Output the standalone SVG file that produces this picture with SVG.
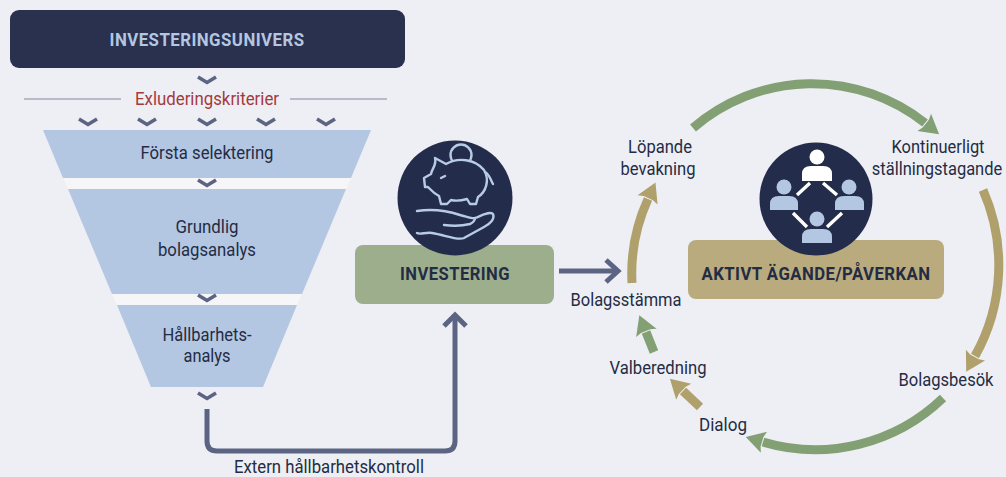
<svg xmlns="http://www.w3.org/2000/svg" width="1006" height="477" viewBox="0 0 1006 477">
<style>
text{font-family:Roboto,"Liberation Sans",sans-serif;fill:#232c44;text-anchor:middle;font-size:18.5px}
.b{font-weight:700;font-size:18px;letter-spacing:.5px}
.ch{fill:none;stroke:#5c6484;stroke-width:3.6}
.f{fill:#b3c6e2}
.g{fill:none;stroke:#83a074;stroke-width:9}
.t{fill:none;stroke:#b0a06c;stroke-width:9}
.ic{fill:none;stroke:#b8cbe6;stroke-width:2.4;stroke-linejoin:round;stroke-linecap:round}
.c{fill:#232c4a}
.pb{fill:#b3c6e2}
.pw{fill:#fff}
.ln{stroke:#fff;stroke-width:3.4;fill:none}
.flow{fill:none;stroke:#5c6484;stroke-width:5}
</style>
<defs>
<path id="chev" class="ch" d="M-9,-3 L0,2.5 L9,-3"/>
<marker id="ag" markerUnits="userSpaceOnUse" markerWidth="30" markerHeight="30" refX="2" refY="13" orient="auto" viewBox="0 0 30 30"><path fill="#83a074" d="M3,8 L1,2 L20,13 L1,24 L3,18Z"/></marker>
<marker id="at" markerUnits="userSpaceOnUse" markerWidth="30" markerHeight="30" refX="2" refY="13" orient="auto" viewBox="0 0 30 30"><path fill="#b0a06c" d="M3,8 L1,2 L20,13 L1,24 L3,18Z"/></marker>
</defs>
<rect width="1006" height="477" fill="#eeeff4"/>
<g id="investeringsunivers"><rect x="10" y="10" width="395" height="58" rx="9" fill="#29314e"/><text class="b" x="207" y="46" style="fill:#b3c6e2" textLength="195" lengthAdjust="spacingAndGlyphs">INVESTERINGSUNIVERS</text></g>
<g id="exkludering">
<line x1="24" y1="99" x2="121" y2="99" stroke="#a8a9bb" stroke-width="1.5"/><line x1="290" y1="99" x2="387" y2="99" stroke="#a8a9bb" stroke-width="1.5"/>
<text x="207" y="105" style="fill:#a33a40" textLength="144" lengthAdjust="spacingAndGlyphs">Exluderingskriterier</text>
</g>
<path id="gaps" fill="#f6f6f9" d="M63,178 H351 L346,189 H68Z M112,294 H302 L297,305 H117Z"/>
<g id="selektering"><path class="f" d="M43,130 H371 L351,178 H63Z"/><text x="207" y="159" textLength="133" lengthAdjust="spacingAndGlyphs">Första selektering</text></g>
<g id="bolagsanalys"><path class="f" d="M68,189 H346 L302,294 H112Z"/><text x="207" y="233" textLength="63" lengthAdjust="spacingAndGlyphs">Grundlig</text><text x="207" y="256" textLength="98" lengthAdjust="spacingAndGlyphs">bolagsanalys</text></g>
<g id="hallbarhetsanalys"><path class="f" d="M117,305 H297 L263,387 H151Z"/><text x="207" y="341" textLength="89" lengthAdjust="spacingAndGlyphs">Hållbarhets-</text><text x="207" y="362" textLength="47" lengthAdjust="spacingAndGlyphs">analys</text></g>
<g id="investering">
<rect x="355" y="245" width="199" height="59" rx="8" fill="#9dae8c"/>
<circle class="c" cx="455" cy="198" r="57.5"/>
<circle class="ic" cx="461" cy="155" r="10.5"/>
<path d="M435,158 L446,164 C458,157 475,159 484,170 C490,180 486,192 478,197 L476,204 L470,204 L467,199 C460,201 455,201 451,200 L447,204 L441,204 L439,196 C433,193 431,190 428,187 L425,187 L424,178 L431,174 C432,168 437,165 435,158Z" fill="#232c4a" stroke="#b8cbe6" stroke-width="2.4" stroke-linejoin="round"/>
<path class="ic" d="M485,172 C490,175 490,179 493,184"/>
<path class="ic" d="M441,178 L445,176"/>
<path class="ic" d="M417,211 C430,209 445,210 460,215 C468,217 473,219 475,218 C483,215 490,211 493,214 C495,219 490,224 484,227 L464,238 C458,241 445,235 432,233 C426,232 420,235 417,233"/>
<path class="ic" d="M444,225 C452,226 462,226 470,224 C473,223 475,220 475,218"/>
<text class="b" x="455" y="280" textLength="110" lengthAdjust="spacingAndGlyphs">INVESTERING</text>
</g>
<g id="aktivt">
<rect x="688" y="240" width="256" height="59" rx="8" fill="#b9ab7d"/>
<circle class="c" cx="816" cy="199" r="56.5"/>
<circle class="pw" cx="817" cy="157" r="7.5"/><path class="pw" d="M802,181 V174 Q802,166 811,166 H823 Q832,166 832,174 V181Z"/>
<circle class="pb" cx="784" cy="187" r="7.5"/><path class="pb" d="M770,210 V204 Q770,196 779,196 H789 Q798,196 798,204 V210Z"/>
<circle class="pb" cx="849" cy="187" r="7.5"/><path class="pb" d="M835,210 V204 Q835,196 844,196 H855 Q864,196 864,204 V210Z"/>
<circle class="pb" cx="817" cy="219" r="7.5"/><path class="pb" d="M802,243 V237 Q802,229 811,229 H823 Q832,229 832,237 V243Z"/>
<path class="ln" d="M797,195 L810,183 M823,183 L837,195 M793,213 L807,227 M827,227 L842,213"/>
<text class="b" x="816" y="280" textLength="229" lengthAdjust="spacingAndGlyphs">AKTIVT ÄGANDE/PÅVERKAN</text>
</g>
<g id="labels">
<text x="660" y="153" textLength="64" lengthAdjust="spacingAndGlyphs">Löpande</text><text x="658" y="175" textLength="75" lengthAdjust="spacingAndGlyphs">bevakning</text>
<text x="938" y="153" textLength="93" lengthAdjust="spacingAndGlyphs">Kontinuerligt</text><text transform="translate(937,175) scale(.89,1)" x="0" y="0">ställningstagande</text>
<text x="626" y="306" textLength="111" lengthAdjust="spacingAndGlyphs">Bolagsstämma</text>
<text x="658" y="374" textLength="97" lengthAdjust="spacingAndGlyphs">Valberedning</text>
<text x="723" y="431" textLength="48" lengthAdjust="spacingAndGlyphs">Dialog</text>
<text x="946" y="386" textLength="95" lengthAdjust="spacingAndGlyphs">Bolagsbesök</text>
<text x="329" y="473" style="font-size:18px" textLength="190" lengthAdjust="spacingAndGlyphs">Extern hållbarhetskontroll</text>
</g>
<g id="connectors">
<use href="#chev" x="207" y="80"/>
<use href="#chev" x="88" y="122"/><use href="#chev" x="147" y="122"/><use href="#chev" x="207" y="122"/><use href="#chev" x="266" y="122"/><use href="#chev" x="326" y="122"/>
<use href="#chev" x="207" y="183"/><use href="#chev" x="207" y="298"/><use href="#chev" x="207" y="396"/>
<path class="flow" d="M207,409 V441 Q207,451 217,451 H445 Q455,451 455,441 V316"/>
<path class="flow" d="M444,326 L455,315 L466,326"/>
<path class="flow" d="M559,271 H616"/>
<path class="flow" d="M606,260 L618,271 L606,282"/>
<path class="g" marker-end="url(#ag)" d="M693,128 A182,182 0 0 1 925,123"/>
<path class="t" marker-end="url(#at)" d="M983,190 A186,186 0 0 1 975,356"/>
<path class="g" marker-end="url(#ag)" d="M943,398 A184,184 0 0 1 763,442"/>
<path class="t" marker-end="url(#at)" d="M700,407 L683,391"/>
<path class="g" marker-end="url(#ag)" d="M654,352 L646,332"/>
<path class="t" marker-end="url(#at)" d="M632,283 A180,180 0 0 1 648,199"/>
</g>
</svg>
